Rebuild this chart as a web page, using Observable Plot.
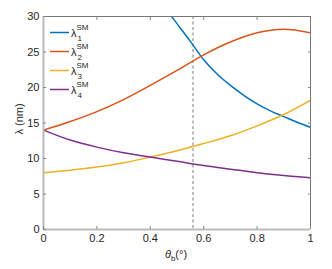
<!DOCTYPE html>
<html><head><meta charset="utf-8">
<script src="https://cdn.jsdelivr.net/npm/d3@7"></script>
<script src="https://cdn.jsdelivr.net/npm/@observablehq/plot@0.6"></script>
<style>
body{margin:0;background:#fff;font-family:"Liberation Sans",Arial,sans-serif;}
#chart{position:relative;width:332px;height:269px;}
</style></head><body><div id="chart"></div>
<script>
// Data
const thetaGrid = [0, 0.1, 0.2, 0.3, 0.4, 0.5, 0.6, 0.7, 0.8, 0.9, 1.0];
const lambda2 = [14.0, 15.2, 16.6, 18.3, 20.3, 22.4, 24.6, 26.4, 27.7, 28.2, 27.7];
const lambda3 = [8.0, 8.35, 8.8, 9.4, 10.2, 11.1, 12.1, 13.2, 14.6, 16.2, 18.2];
const lambda4 = [14.0, 12.6, 11.6, 10.8, 10.2, 9.6, 9.0, 8.5, 8.0, 7.6, 7.3];
const theta1 = [0.48, 0.5, 0.55, 0.6, 0.65, 0.7, 0.75, 0.8, 0.85, 0.9, 0.95, 1.0];
const lambda1 = [30.0, 29.0, 26.5, 23.9, 21.9, 20.3, 18.9, 17.7, 16.7, 15.9, 15.1, 14.4];
const seriesNames = ["1", "2", "3", "4"];
const colors = ["#0072BD", "#D95319", "#EDB120", "#7E2F8E"];
const dashedTheta = [0.56];
const xTicks = [0, 0.2, 0.4, 0.6, 0.8, 1];
const yTicks = [0, 5, 10, 15, 20, 25, 30];

const rows = [];
theta1.forEach((t, i) => rows.push({s: "1", t, v: lambda1[i]}));
thetaGrid.forEach((t, i) => rows.push({s: "2", t, v: lambda2[i]}));
thetaGrid.forEach((t, i) => rows.push({s: "3", t, v: lambda3[i]}));
thetaGrid.forEach((t, i) => rows.push({s: "4", t, v: lambda4[i]}));

const W = 332, H = 269, mL = 43, mR = 22, mT = 16, mB = 40;
const txt = "#262626";
const plot = Plot.plot({
  width: W, height: H,
  marginLeft: mL, marginRight: mR, marginTop: mT, marginBottom: mB,
  style: {fontFamily: '"Liberation Sans", Arial, sans-serif', fontSize: "11px", color: txt, background: "white"},
  x: {domain: [0, 1], ticks: xTicks, tickFormat: d => String(d), label: null},
  y: {domain: [0, 30], ticks: yTicks, label: null},
  color: {domain: seriesNames, range: colors},
  marks: [
    Plot.ruleX(dashedTheta, {stroke: "#999", strokeWidth: 1.3, strokeDasharray: "3,2.5"}),
    Plot.line(rows, {x: "t", y: "v", z: "s", stroke: "s", strokeWidth: 1.5, curve: "catmull-rom", clip: true}),
    Plot.ruleY([30], {stroke: "#777", strokeWidth: 1}),
    Plot.ruleX([1], {stroke: "#777", strokeWidth: 1}),
    Plot.ruleX([0], {stroke: "#bbb", strokeWidth: 2}),
    Plot.ruleY([0], {stroke: "#bbb", strokeWidth: 2}),
    Plot.axisX({ticks: xTicks, tickSize: -3, tickPadding: 8, stroke: "#888", tickFormat: d => String(d), fill: txt}),
    Plot.axisX({anchor: "top", ticks: xTicks.slice(1, -1), tickSize: -3, tickFormat: () => "", stroke: "#888"}),
    Plot.axisY({ticks: yTicks, tickSize: -3, tickPadding: 7, stroke: "#888", fill: txt}),
    Plot.axisY({anchor: "right", ticks: yTicks.slice(1, -1), tickSize: -3, tickFormat: () => "", stroke: "#888"})
  ]
});
document.getElementById("chart").appendChild(plot);

const svg = d3.select(plot);
svg.append("text").attr("transform", "translate(23,119) rotate(-90)").attr("text-anchor", "middle")
  .attr("font-size", 11).attr("fill", txt).text("λ (nm)");
const xl = svg.append("text").attr("x", 176).attr("y", 258).attr("text-anchor", "middle")
  .attr("font-size", 11).attr("fill", txt);
xl.append("tspan").attr("font-style", "italic").text("θ");
xl.append("tspan").attr("font-size", 8).attr("dy", 3).text("b");
xl.append("tspan").attr("dy", -3).text("(°)");

const leg = svg.append("g").attr("text-anchor", "start");
seriesNames.forEach((n, i) => {
  const y = 32.5 + i * 19;
  leg.append("line").attr("x1", 50).attr("x2", 69).attr("y1", y).attr("y2", y)
    .attr("stroke", colors[i]).attr("stroke-width", 1.5);
  const t = leg.append("text").attr("text-anchor", "start").attr("x", 71).attr("y", y + 4)
    .attr("font-size", 11).attr("fill", txt);
  t.append("tspan").text("λ");
  t.append("tspan").attr("font-size", 8).attr("dy", -6.5).text("SM");
  t.append("tspan").attr("font-size", 8).attr("x", 77.5).attr("dy", 10.5).text(n);
});
</script></body></html>
